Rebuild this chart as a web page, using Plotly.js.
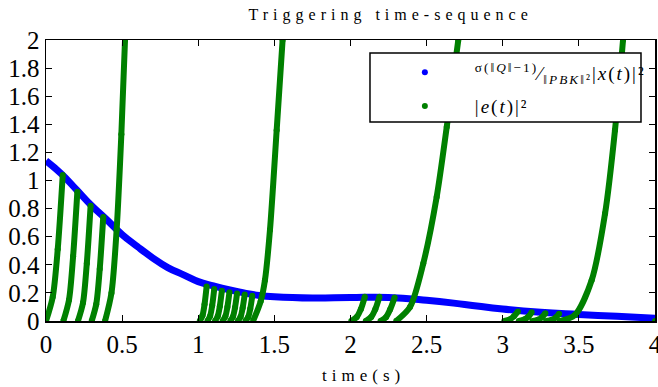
<!DOCTYPE html>
<html>
<head>
<meta charset="utf-8">
<script src="https://cdn.plot.ly/plotly-3.0.1.min.js"></script>
<style>
  html, body { margin: 0; padding: 0; background: #fff; }
  #chart { width: 658px; height: 387px; }
  .gtitle { letter-spacing: 5px; }
  .annotation-text { letter-spacing: 5px; }
  .legendtext { letter-spacing: 2px; }
</style>
</head>
<body>
<div id="chart"></div>
<script>
// Threshold curve sigma(||Q||-1)/||PBK||^2 |x(t)|^2
const blueT = [0, 0.1, 0.2, 0.3, 0.4, 0.5, 0.6, 0.7, 0.8, 0.9, 1.0, 1.1, 1.2, 1.3, 1.4, 1.5, 1.75, 2.0, 2.25, 2.5, 2.75, 3.0, 3.25, 3.5, 3.75, 4.0];
const blueY = [1.14, 1.048, 0.935, 0.82, 0.72, 0.615, 0.53, 0.45, 0.38, 0.33, 0.28, 0.25, 0.223, 0.2, 0.182, 0.172, 0.163, 0.167, 0.168, 0.148, 0.118, 0.085, 0.062, 0.047, 0.033, 0.02];

// |e(t)|^2 segments, group 1 (t ~ 0 - 0.52)
const g1T = [0, 0.044, 0.077, 0.11, null,
             0.114, 0.151, 0.178, 0.206, null,
             0.21, 0.243, 0.268, 0.293, null,
             0.30, 0.330, 0.353, 0.376, null,
             0.388, 0.43, 0.464, 0.495, 0.519];
const g1Y = [0, 0.17, 0.51, 1.04, null,
             0, 0.15, 0.46, 0.92, null,
             0, 0.13, 0.41, 0.82, null,
             0, 0.12, 0.37, 0.74, null,
             0, 0.2, 0.65, 1.33, 2.0];

// group 2 (t ~ 1.0 - 1.55)
const g2T = [1.01, 1.028, 1.0415, 1.055, null,
             1.06, 1.078, 1.0915, 1.105, null,
             1.11, 1.128, 1.1415, 1.155, null,
             1.16, 1.178, 1.1915, 1.205, null,
             1.21, 1.228, 1.2415, 1.255, null,
             1.26, 1.278, 1.2915, 1.305, null,
             1.31, 1.328, 1.3415, 1.355, null,
             1.36, 1.41, 1.438, 1.471, 1.515, 1.554];
const g2Y = [0, 0.039, 0.12, 0.245, null,
             0, 0.036, 0.11, 0.228, null,
             0, 0.034, 0.104, 0.215, null,
             0, 0.033, 0.1, 0.205, null,
             0, 0.031, 0.096, 0.196, null,
             0, 0.03, 0.092, 0.188, null,
             0, 0.028, 0.087, 0.179, null,
             0, 0.14, 0.29, 0.647, 1.357, 2.0];

// group 3 (t ~ 2.0 - 2.71)
const g3T = [2.005, 2.041, 2.068, 2.094, null,
             2.10, 2.136, 2.163, 2.19, null,
             2.197, 2.233, 2.26, 2.29, null,
             2.30, 2.391, 2.478, 2.566, 2.632, 2.708];
const g3Y = [0, 0.028, 0.084, 0.172, null,
             0, 0.028, 0.084, 0.172, null,
             0, 0.027, 0.082, 0.168, null,
             0, 0.10, 0.41, 0.883, 1.38, 2.0];

// group 4 (t ~ 3.0 - 3.79) and final reset at t = 4
const g4T = [3.01, 3.046, 3.073, 3.10, null,
             3.105, 3.141, 3.168, 3.19, null,
             3.195, 3.231, 3.258, 3.28, null,
             3.285, 3.321, 3.348, 3.37, null,
             3.375, 3.474, 3.584, 3.672, 3.737, 3.79, null,
             4.0];
const g4Y = [0, 0.011, 0.033, 0.068, null,
             0, 0.010, 0.030, 0.062, null,
             0, 0.009, 0.027, 0.056, null,
             0, 0.008, 0.025, 0.051, null,
             0, 0.043, 0.29, 0.765, 1.357, 2.0, null,
             0];

const xTickVals = [0, 0.5, 1, 1.5, 2, 2.5, 3, 3.5, 4];
const xTickText = ['0', '0.5', '1', '1.5', '2', '2.5', '3', '3.5', '4'];
const yTickVals = [0, 0.2, 0.4, 0.6, 0.8, 1, 1.2, 1.4, 1.6, 1.8, 2];
const yTickText = ['0', '0.2', '0.4', '0.6', '0.8', '1', '1.2', '1.4', '1.6', '1.8', '2'];

const BLUE = '#0000ff';
const GREEN = '#008000';
const SERIF = 'Liberation Serif';

const greenT = [].concat(g1T, [null], g2T, [null], g3T, [null], g4T);
const greenY = [].concat(g1Y, [null], g2Y, [null], g3Y, [null], g4Y);

const traces = [
  {
    x: blueT, y: blueY, type: 'scatter', mode: 'lines',
    line: {color: BLUE, width: 7, shape: 'spline', smoothing: 1.3},
    showlegend: false, hoverinfo: 'skip'
  },
  {
    x: greenT, y: greenY, type: 'scatter', mode: 'lines+markers',
    line: {color: GREEN, width: 6, shape: 'spline', smoothing: 0.8},
    marker: {color: GREEN, size: 6},
    connectgaps: false, showlegend: false, hoverinfo: 'skip'
  },
  {
    x: [null], y: [null], type: 'scatter', mode: 'markers',
    marker: {color: BLUE, size: 6}, legendgroup: 'a',
    name: '<sup>σ(‖<i>Q</i>‖−1)</sup>⁄<sub>‖<i>PBK</i>‖²</sub>|<i>x</i>(<i>t</i>)|²'
  },
  {
    x: [null], y: [null], type: 'scatter', mode: 'markers',
    marker: {color: GREEN, size: 6}, legendgroup: 'b',
    name: '|<i>e</i>(<i>t</i>)|²'
  }
];

const axisCommon = {
  showgrid: false, zeroline: false,
  showline: true, linecolor: '#000', linewidth: 1.5, mirror: 'ticks',
  ticks: 'inside', ticklen: 6, tickwidth: 1, tickcolor: '#000',
  ticklabeloverflow: 'allow',
  tickfont: {family: SERIF, size: 25, color: '#000'}
};

const layout = {
  width: 658, height: 387,
  margin: {l: 46, r: 3, t: 40, b: 66},
  paper_bgcolor: '#fff', plot_bgcolor: '#fff',
  title: {
    text: 'Triggering time-sequence',
    font: {family: SERIF, size: 16, color: '#000'},
    x: 0.566, xref: 'paper', xanchor: 'center', y: 0.962, yref: 'container', yanchor: 'middle'
  },
  xaxis: Object.assign({}, axisCommon, {
    range: [0, 4], tickvals: xTickVals, ticktext: xTickText
  }),
  yaxis: Object.assign({}, axisCommon, {
    range: [0, 2], tickvals: yTickVals, ticktext: yTickText
  }),
  annotations: [{
    text: 'time(s)', xref: 'paper', yref: 'paper', x: 0.522, y: -0.195,
    xanchor: 'center', yanchor: 'middle', showarrow: false,
    font: {family: SERIF, size: 17, color: '#000'}
  }],
  shapes: [{
    type: 'rect', xref: 'paper', yref: 'paper',
    x0: 0.532, x1: 0.977, y0: 0.708, y1: 0.954,
    line: {color: '#000', width: 1.5}, fillcolor: '#fff', layer: 'above'
  }],
  showlegend: true,
  legend: {
    x: 0.54, y: 0.952, xanchor: 'left', yanchor: 'top',
    bgcolor: 'rgba(0,0,0,0)', borderwidth: 0,
    font: {family: SERIF, size: 19, color: '#000'},
    itemwidth: 90, tracegroupgap: 6
  }
};

Plotly.newPlot('chart', traces, layout, {displayModeBar: false, staticPlot: true});
</script>
</body>
</html>
